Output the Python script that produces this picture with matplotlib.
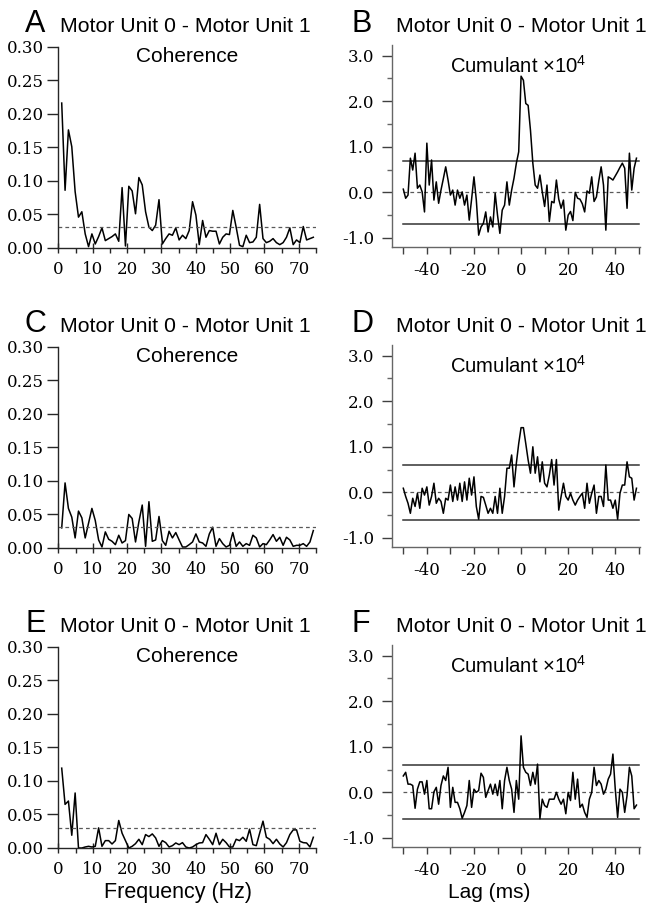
import numpy as np
import matplotlib
matplotlib.use('Agg')
import matplotlib.pyplot as plt
from matplotlib.ticker import FixedLocator, MultipleLocator

# coherence estimates, one value per frequency bin (bin width 1000/1024 Hz)
bin_hz = 1000.0 / 1024.0
coh_a = [0.216, 0.086, 0.176, 0.151, 0.084, 0.046, 0.054, 0.021, 0.002, 0.021,
         0.006, 0.017, 0.030, 0.011, 0.014, 0.017, 0.021, 0.010, 0.090, 0.003,
         0.092, 0.085, 0.051, 0.105, 0.094, 0.054, 0.031, 0.026, 0.034, 0.072,
         0.006, 0.014, 0.021, 0.019, 0.030, 0.012, 0.019, 0.014, 0.026, 0.069,
         0.049, 0.005, 0.041, 0.016, 0.026, 0.025, 0.025, 0.006, 0.016, 0.021,
         0.020, 0.056, 0.031, 0.004, 0.002, 0.019, 0.008, 0.009, 0.016, 0.065,
         0.014, 0.008, 0.010, 0.014, 0.008, 0.005, 0.008, 0.016, 0.030, 0.005,
         0.012, 0.008, 0.032, 0.012, 0.014, 0.016]
coh_c = [0.030, 0.097, 0.059, 0.046, 0.015, 0.055, 0.045, 0.015, 0.037, 0.059,
         0.041, 0.012, 0.0015, 0.024, 0.013, 0.010, 0.005, 0.019, 0.0075, 0.011,
         0.050, 0.044, 0.009, 0.039, 0.064, 0.0025, 0.069, 0.010, 0.012, 0.047,
         0.011, 0.004, 0.025, 0.015, 0.023, 0.012, 0.0015, 0.0015, 0.005, 0.009,
         0.021, 0.009, 0.0075, 0.0025, 0.021, 0.031, 0.0025, 0.014, 0.0065, 0.0015,
         0.004, 0.023, 0.0025, 0.009, 0.0025, 0.0065, 0.004, 0.019, 0.015, 0.0015,
         0.0065, 0.005, 0.012, 0.020, 0.010, 0.016, 0.004, 0.016, 0.012, 0.0025,
         0.004, 0.004, 0.0065, 0.0025, 0.009, 0.026]
coh_e = [0.119, 0.065, 0.070, 0.019, 0.082, 0.000, 0.000, 0.0015, 0.0025, 0.0015,
         0.0025, 0.030, 0.0025, 0.011, 0.011, 0.006, 0.011, 0.041, 0.022, 0.011,
         0.000, 0.0025, 0.0065, 0.013, 0.005, 0.020, 0.017, 0.021, 0.015, 0.0025,
         0.011, 0.008, 0.0015, 0.0035, 0.0075, 0.005, 0.008, 0.0015, 0.000, 0.0015,
         0.005, 0.0075, 0.008, 0.020, 0.013, 0.005, 0.022, 0.005, 0.013, 0.008,
         0.0015, 0.0015, 0.013, 0.011, 0.016, 0.010, 0.028, 0.005, 0.0035, 0.022,
         0.040, 0.016, 0.013, 0.0065, 0.013, 0.006, 0.0015, 0.008, 0.020, 0.027,
         0.027, 0.010, 0.008, 0.0075, 0.0015, 0.016]
coh_limit = [0.031, 0.031, 0.030]

# cumulant density (x 10^4), lags -50 .. 49 ms
lag_ms = np.arange(-50, 50)
cum_b = [0.07, -0.13, -0.06, 0.75, 0.49, 0.86, 0.09, 0.16, 0.01, -0.43,
         1.08, 0.16, 0.71, -0.17, 0.23, -0.24, 0.05, 0.30, 0.56, 0.27,
         -0.06, 0.05, -0.28, 0.05, -0.13, 0.01, -0.28, -0.06, -0.61, -0.15,
         0.34, -0.17, -0.94, -0.76, -0.68, -0.43, -0.87, -0.54, -0.76, -0.02,
         -0.50, -0.90, -0.39, -0.28, 0.23, -0.28, 0.05, 0.31, 0.64, 0.89,
         2.55, 2.46, 1.95, 1.91, 1.36, 0.64, 0.16, 0.09, 0.38, 0.01,
         -0.31, 0.16, -0.64, -0.20, -0.23, 0.27, -0.15, -0.35, -0.17, -0.83,
         -0.50, -0.42, -0.62, 0.00, -0.13, -0.15, -0.25, -0.43, 0.03, -0.02,
         0.34, -0.20, -0.10, 0.25, 0.56, 0.16, -0.83, 0.34, 0.31, 0.27,
         0.36, 0.45, 0.55, 0.64, 0.53, -0.35, 0.86, 0.05, 0.53, 0.75]
cum_d = [0.09, -0.09, -0.24, -0.46, -0.13, -0.31, -0.02, -0.35, 0.09, -0.06,
         0.12, -0.28, -0.09, 0.20, -0.24, -0.13, -0.20, -0.46, -0.13, -0.17,
         0.16, -0.20, 0.12, -0.17, 0.20, -0.20, 0.23, -0.17, 0.31, -0.06,
         0.34, -0.31, -0.59, -0.09, -0.11, -0.28, -0.46, -0.35, -0.46, -0.09,
         -0.46, 0.09, -0.46, -0.09, 0.53, 0.53, 0.82, 0.12, 0.64, 1.07,
         1.42, 1.42, 1.07, 0.71, 0.42, 1.00, 0.42, 0.78, 0.23, 0.67,
         0.20, 0.12, 0.38, 0.72, 0.16, 0.72, -0.39, -0.09, 0.20, -0.09,
         -0.17, -0.02, -0.17, -0.28, -0.17, -0.09, -0.02, -0.35, 0.20, -0.24,
         -0.02, 0.16, -0.46, -0.09, -0.09, -0.31, 0.60, -0.17, -0.17, -0.35,
         -0.17, -0.59, -0.02, 0.16, 0.16, 0.67, 0.34, 0.31, -0.17, 0.09]
cum_f = [0.36, 0.44, 0.18, 0.18, 0.15, -0.35, 0.07, 0.23, 0.23, -0.04,
         0.26, -0.36, -0.36, 0.01, 0.11, -0.26, 0.15, 0.36, 0.26, 0.55,
         -0.33, 0.11, -0.22, -0.22, -0.36, -0.57, -0.44, -0.29, 0.26, -0.33,
         0.07, 0.00, 0.04, 0.42, 0.33, -0.11, 0.04, 0.18, -0.04, 0.18,
         -0.07, 0.26, -0.36, 0.26, 0.55, 0.26, 0.07, -0.44, 0.26, -0.15,
         1.24, 0.55, 0.44, 0.40, 0.15, 0.44, 0.18, 0.62, -0.58, -0.15,
         -0.29, -0.33, -0.15, -0.15, -0.15, 0.00, -0.15, -0.26, -0.15, -0.47,
         0.00, -0.18, 0.44, -0.15, 0.29, -0.33, -0.26, -0.44, -0.55, -0.15,
         0.00, 0.55, 0.15, 0.26, 0.18, -0.04, 0.07, 0.29, 0.40, 0.84,
         0.07, -0.55, 0.07, 0.00, -0.44, -0.07, 0.55, 0.36, -0.36, -0.28]
cum_limit = [0.69, 0.61, 0.59]

left_letters = ['A', 'C', 'E']
right_letters = ['B', 'D', 'F']
pair_title = 'Motor Unit 0 - Motor Unit 1'

W, H = 647, 911
SANS = 'Liberation Sans'
TICK_SIZE = 12
plt.rcParams['font.family'] = 'DejaVu Serif'
plt.rcParams['axes.unicode_minus'] = False
plt.rcParams['mathtext.fontset'] = 'custom'
plt.rcParams['mathtext.rm'] = SANS

fig = plt.figure(figsize=(W / 100, H / 100), dpi=100)


def px_box(x0, x1, top, bottom):
    return [x0 / W, 1 - bottom / H, (x1 - x0) / W, (bottom - top) / H]


def coherence_panel(rect, values, limit, letter, row):
    ax = fig.add_axes(rect)
    freq = np.arange(1, len(values) + 1) * bin_hz
    ax.plot(freq, values, color='black', lw=1.1)
    ax.plot([0, 75], [limit, limit], color='0.35', lw=0.9, ls=(0, (3, 2.5)))
    ax.set_xlim(-0.25, 75)
    ax.set_ylim(0, 0.30)
    for s in ('top', 'right'):
        ax.spines[s].set_visible(False)
    for s in ('left', 'bottom'):
        ax.spines[s].set_linewidth(1.0)
        ax.spines[s].set_color('0.15')
    ax.xaxis.set_major_locator(MultipleLocator(10))
    ax.xaxis.set_minor_locator(FixedLocator(np.arange(5, 80, 10)))
    ax.yaxis.set_major_locator(MultipleLocator(0.05))
    ax.yaxis.set_major_formatter(plt.FormatStrFormatter('%.2f'))
    ax.tick_params(axis='x', which='major', direction='inout', length=7,
                   width=1.0, pad=5.5, labelsize=TICK_SIZE, color='0.15')
    ax.tick_params(axis='x', which='minor', direction='out', length=3.5,
                   width=1.0, color='0.15')
    ax.tick_params(axis='y', which='major', direction='out', length=8,
                   width=1.0, pad=1.5, labelsize=TICK_SIZE, color='0.15')
    ax.patch.set_alpha(0)
    ax.text(0.503, 0.925, 'Coherence', transform=ax.transAxes, ha='center',
            va='baseline', fontsize=15, family=SANS)
    base = 32 + 300 * row
    fig.text(25 / W, 1 - base / H, letter, fontsize=22, family=SANS,
             va='baseline', ha='left')
    fig.text(60 / W, 1 - base / H, pair_title, fontsize=15.3, family=SANS,
             va='baseline', ha='left')
    return ax


def cumulant_panel(rect, values, limit, letter, row):
    ax = fig.add_axes(rect)
    ax.plot([-50, 50], [limit, limit], color='0.2', lw=1.1)
    ax.plot([-50, 50], [-limit, -limit], color='0.2', lw=1.1)
    ax.plot([-50, 50], [0, 0], color='0.35', lw=0.9, ls=(0, (3, 2.5)))
    ax.plot(lag_ms, values, color='black', lw=1.1)
    ax.set_xlim(-54.8, 50.5)
    ax.set_ylim(-1.2, 3.235)
    for s in ('top', 'right'):
        ax.spines[s].set_visible(False)
    for s in ('left', 'bottom'):
        ax.spines[s].set_linewidth(1.0)
        ax.spines[s].set_color('0.4')
    ax.xaxis.set_major_locator(FixedLocator([-40, -20, 0, 20, 40]))
    ax.xaxis.set_minor_locator(FixedLocator([-50, -30, -10, 10, 30, 50]))
    ax.yaxis.set_major_locator(MultipleLocator(1.0))
    ax.yaxis.set_minor_locator(MultipleLocator(0.5))
    ax.yaxis.set_major_formatter(plt.FormatStrFormatter('%.1f'))
    ax.tick_params(axis='x', which='both', direction='out', length=5,
                   width=1.0, pad=6, labelsize=TICK_SIZE, color='0.25')
    ax.tick_params(axis='y', which='major', direction='out', length=7,
                   width=1.0, pad=6, labelsize=TICK_SIZE, color='0.25')
    ax.tick_params(axis='y', which='minor', direction='out', length=3.6,
                   width=1.0, color='0.4')
    ax.patch.set_alpha(0)
    ax.text(0.508, 0.863, 'Cumulant ×10$^{4}$', transform=ax.transAxes,
            ha='center', va='baseline', fontsize=14.6, family=SANS)
    base = 32 + 300 * row
    fig.text(352 / W, 1 - base / H, letter, fontsize=22, family=SANS,
             va='baseline', ha='left')
    fig.text(396 / W, 1 - base / H, pair_title, fontsize=15.3, family=SANS,
             va='baseline', ha='left')
    return ax


coh_sets = [coh_a, coh_c, coh_e]
cum_sets = [cum_b, cum_d, cum_f]
for row in range(3):
    off = 300 * row
    coherence_panel(px_box(57.5, 316, 46.7 + off, 248 + off), coh_sets[row],
                    coh_limit[row], left_letters[row], row)
    cumulant_panel(px_box(392, 640, 45 + off, 247 + off), cum_sets[row],
                   cum_limit[row], right_letters[row], row)

fig.text(178.5 / W, 1 - 898 / H, 'Frequency (Hz)', fontsize=15.5, family=SANS,
         ha='center', va='baseline')
fig.text(489 / W, 1 - 898 / H, 'Lag (ms)', fontsize=15, family=SANS,
         ha='center', va='baseline')

fig.savefig('out.png', dpi=100, facecolor='white')
